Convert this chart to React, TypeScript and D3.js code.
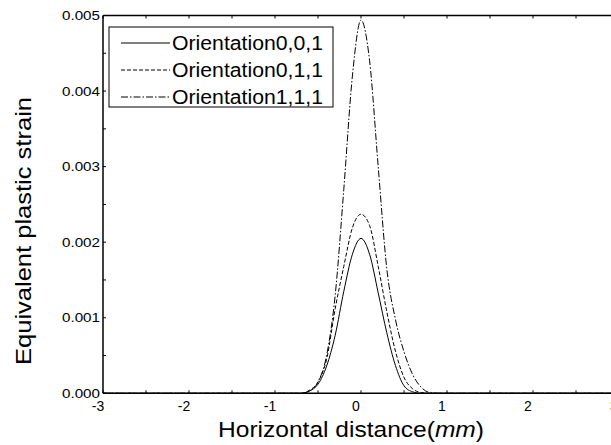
import * as d3 from "d3";

// horizontal distance (mm) where the strain was read
const xs = [-3, -1, -0.7, -0.6, -0.5, -0.4, -0.3, -0.2, -0.1, 0, 0.1, 0.2, 0.3, 0.4, 0.5, 0.6, 0.7, 0.8, 0.9, 1, 3];

const orient001 = [0, 0, 0, 0.00003, 0.00012, 0.00036, 0.00077, 0.00135, 0.00184, 0.00205, 0.00184, 0.00133, 0.0008, 0.00037, 0.0001, 0.00002, 0, 0, 0, 0, 0];
const orient011 = [0, 0, 0, 0.00004, 0.00015, 0.00045, 0.00112, 0.00168, 0.00219, 0.00237, 0.00222, 0.00168, 0.00108, 0.00056, 0.00021, 0.00006, 0.00001, 0, 0, 0, 0];
const orient111 = [0, 0, 0, 0.00003, 0.00015, 0.0005, 0.0013, 0.0027, 0.0042, 0.00494, 0.0044, 0.003, 0.00165, 0.00098, 0.00055, 0.00025, 0.00008, 0.00001, 0, 0, 0];

const seriesNames = ["Orientation0,0,1", "Orientation0,1,1", "Orientation1,1,1"];
const seriesValues = [orient001, orient011, orient111];
const dashes = ["none", "4,2", "7,2,1.5,2"];

const xTicks = [-3, -2, -1, 0, 1, 2, 3];
const yTicks = [0, 0.001, 0.002, 0.003, 0.004, 0.005];

const W = 611;
const H = 445;
const left = 103;
const right = 619;
const top = 15.5;
const bottom = 393.3;
const font = "'Liberation Sans', Arial, sans-serif";

export default function App() {
  const x = d3.scaleLinear().domain([-3, 3]).range([left, right]);
  const y = d3.scaleLinear().domain([0, 0.005]).range([bottom, top]);
  const minorX = d3.range(-3, 3.01, 0.5);
  const minorY = d3.range(0, 0.00501, 0.0005);

  const line = d3
    .line<number>()
    .x((_, i) => x(xs[i]))
    .y((d) => y(d))
    .curve(d3.curveMonotoneX);

  return (
    <svg width={W} height={H} style={{ position: "absolute", left: 0, top: 0, background: "#fff" }}>
      <rect x={0} y={0} width={W} height={H} fill="#fff" />
      {seriesValues.map((vals, i) => (
        <path key={i} d={line(vals) || ""} fill="none" stroke="#000" strokeWidth={1} strokeDasharray={dashes[i]} />
      ))}
      {/* frame */}
      <line x1={left} x2={right} y1={top} y2={top} stroke="#000" strokeWidth={1.5} />
      <line x1={left} x2={right} y1={bottom} y2={bottom} stroke="#000" strokeWidth={1.5} />
      <line x1={left} x2={left} y1={top} y2={bottom} stroke="#000" strokeWidth={1.5} />
      <line x1={right} x2={right} y1={top} y2={bottom} stroke="#000" strokeWidth={1.5} />
      {minorX.map((t) => (
        <g key={"mx" + t}>
          <line x1={x(t)} x2={x(t)} y1={bottom} y2={bottom - 3} stroke="#000" />
          <line x1={x(t)} x2={x(t)} y1={top} y2={top + 3} stroke="#000" />
        </g>
      ))}
      {minorY.map((t) => (
        <line key={"my" + t} x1={left} x2={left + 3} y1={y(t)} y2={y(t)} stroke="#000" />
      ))}
      {xTicks.map((t) => (
        <text key={"xt" + t} x={x(t) - 5} y={411} textAnchor="middle" fontFamily={font} fontSize={14}>
          {t}
        </text>
      ))}
      {yTicks.map((t) => (
        <text
          key={"yt" + t}
          x={left - 41}
          y={y(t) + 4.5}
          fontFamily={font}
          fontSize={12.5}
          textLength={38}
          lengthAdjust="spacingAndGlyphs"
        >
          {t.toFixed(3)}
        </text>
      ))}
      <text x={218} y={437} fontFamily={font} fontSize={22} textLength={266} lengthAdjust="spacingAndGlyphs">
        Horizontal distance(<tspan fontStyle="italic">mm</tspan>)
      </text>
      <text
        transform={`translate(31,${365}) rotate(-90)`}
        fontFamily={font}
        fontSize={22}
        textLength={268}
        lengthAdjust="spacingAndGlyphs"
      >
        Equivalent plastic strain
      </text>
      {/* legend */}
      <rect x={109} y={27} width={224} height={80} fill="#fff" stroke="#000" strokeWidth={1} />
      {seriesNames.map((name, i) => (
        <g key={name} transform={`translate(0,${43 + i * 27})`}>
          <line x1={121} x2={170} y1={0} y2={0} stroke="#000" strokeDasharray={dashes[i]} />
          <text x={172} y={7} fontFamily={font} fontSize={20} textLength={151} lengthAdjust="spacingAndGlyphs">
            {name}
          </text>
        </g>
      ))}
    </svg>
  );
}
